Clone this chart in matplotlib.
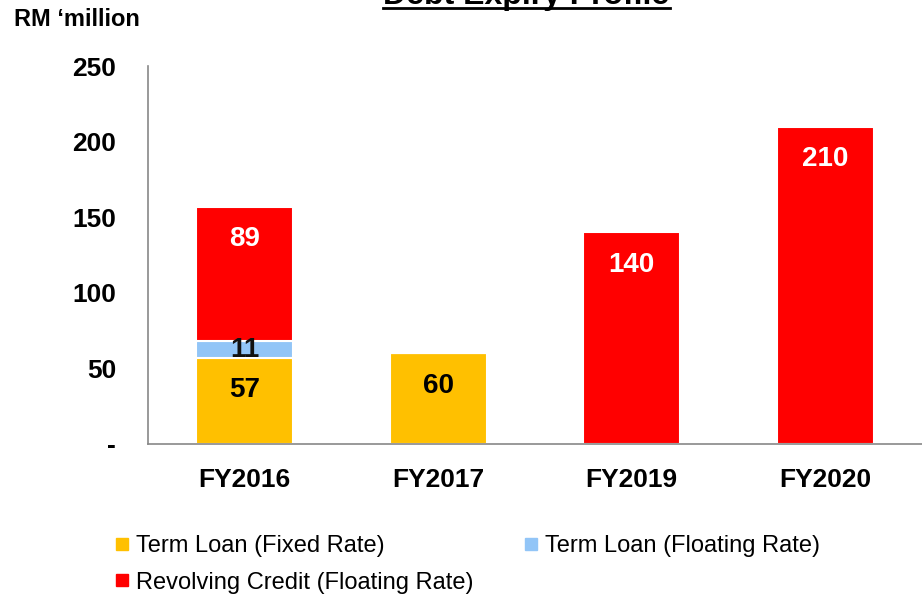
import matplotlib.pyplot as plt
from matplotlib.lines import Line2D

plt.rcParams['font.family'] = ['Liberation Sans', 'DejaVu Sans']

# --- chart data ---
years = ["FY2016", "FY2017", "FY2019", "FY2020"]
term_fixed = [57, 60, 0, 0]
term_floating = [11, 0, 0, 0]
revolving = [89, 0, 140, 210]
y_ticks = [0, 50, 100, 150, 200, 250]
y_tick_labels = ["-", "50", "100", "150", "200", "250"]

ORANGE = "#FFC000"
BLUE = "#92C5F7"
RED = "#FF0000"

fig = plt.figure(figsize=(9.22, 5.95), dpi=100)
ax = fig.add_axes([0.1605, 0.2538, 0.8395, 0.635])

x = list(range(len(years)))
width = 0.5
edge = dict(edgecolor="white", linewidth=1.5)

ax.bar(x, term_fixed, width, color=ORANGE, **edge)
bottom2 = term_fixed
ax.bar(x, term_floating, width, bottom=bottom2, color=BLUE, **edge)
bottom3 = [a + b for a, b in zip(term_fixed, term_floating)]
ax.bar(x, revolving, width, bottom=bottom3, color=RED, **edge)

# data labels, placed a little below the top of each segment
label_kw = dict(ha="center", va="center", fontsize=20, fontweight="bold",
                textcoords="offset points")
for i in x:
    if term_fixed[i]:
        ax.annotate(str(term_fixed[i]), (i, term_fixed[i]), xytext=(0, -23.5),
                    color="black", **label_kw)
    if term_floating[i]:
        ax.annotate(str(term_floating[i]), (i, bottom2[i] + term_floating[i] / 2),
                    xytext=(0, 0), color="#111111", **label_kw)
    if revolving[i]:
        ax.annotate(str(revolving[i]), (i, bottom3[i] + revolving[i]), xytext=(0, -23.5),
                    color="white", **label_kw)

ax.set_xlim(-0.5, 3.5)
ax.set_ylim(0, 250)
ax.set_yticks(y_ticks)
ax.set_yticklabels(y_tick_labels)
ax.set_xticks(x)
ax.set_xticklabels(years)
ax.tick_params(axis="both", length=0, labelsize=19)
ax.tick_params(axis="y", pad=23)
ax.tick_params(axis="x", pad=17)
for lbl in ax.get_xticklabels() + ax.get_yticklabels():
    lbl.set_fontweight("bold")

for side in ["top", "right"]:
    ax.spines[side].set_visible(False)
for side in ["left", "bottom"]:
    ax.spines[side].set_color("#888888")
    ax.spines[side].set_linewidth(1.2)

fig.text(0.015, 0.968, "RM \u2018million", fontsize=17, fontweight="bold", va="center")
fig.text(0.571, 0.9933, "Debt Expiry Profile", fontsize=23, fontweight="bold",
         ha="center", va="baseline")
fig.add_artist(Line2D([0.4154, 0.7267], [0.9866, 0.9866], color="black", lw=2))

handles = [
    Line2D([], [], marker="s", linestyle="none", markersize=8, color=ORANGE),
    Line2D([], [], marker="s", linestyle="none", markersize=8, color=RED),
    Line2D([], [], marker="s", linestyle="none", markersize=8, color=BLUE),
]
labels = ["Term Loan (Fixed Rate)", "Revolving Credit (Floating Rate)",
          "Term Loan (Floating Rate)"]
fig.legend(handles, labels, ncol=2, loc="upper left", bbox_to_anchor=(0.125, 0.101),
           frameon=False, fontsize=17, handlelength=0.6, handletextpad=0.3,
           columnspacing=2.1, labelspacing=0.62, borderaxespad=0, borderpad=0)

fig.savefig("out.png", dpi=100)
